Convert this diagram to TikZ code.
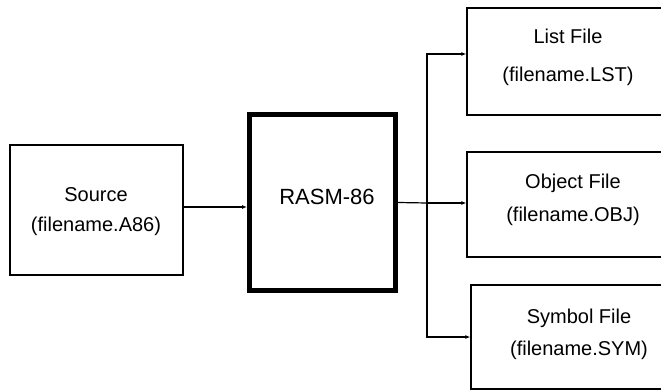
\documentclass[tikz,border=0pt]{standalone}
\usepackage{fontspec}
\setmainfont{Liberation Sans}
\usetikzlibrary{arrows.meta}
\tikzset{
  box/.style={draw, line width=1.3pt, inner sep=0pt, rectangle},
  bigbox/.style={draw, line width=5pt, inner sep=0pt, rectangle},
  lbl/.style={align=center, inner sep=0pt, font=\fontsize{20}{#1}\selectfont},
  lbl/.default=30,
  conn/.style={line width=1.2pt},
  arr/.style={line width=1.2pt, -{Latex[length=5pt,width=4pt]}}
}
\begin{document}
\begin{tikzpicture}[x=1pt,y=-1pt]
\useasboundingbox (0,0) rectangle (661,390);
\clip (0,0) rectangle (661,390);
% boxes
\node[box, minimum width=173pt, minimum height=130pt] (src) at (96.5,210) {};
\node[bigbox, minimum width=146pt, minimum height=176pt] (rasm) at (322.5,202.5) {};
\node[box, minimum width=200pt, minimum height=107pt] (lst) at (567,61.5) {};
\node[box, minimum width=200pt, minimum height=105pt] (obj) at (567,204.5) {};
\node[box, minimum width=200pt, minimum height=104pt] (sym) at (571,337) {};
% labels
\node[lbl=30] (srct) at (96,212) {Source\\(filename.A86)};
\node[inner sep=0pt, font=\fontsize{22}{26}\selectfont] (rasmt) at (327,197) {RASM-86};
\node[lbl=38] (lstt) at (568,57) {List File\\(filename.LST)};
\node[lbl=33] (objt) at (573,200) {Object File\\(filename.OBJ)};
\node[lbl=32] (symt) at (579,334) {Symbol File\\(filename.SYM)};
% connectors
\draw[arr] ([yshift=3pt]src.east) coordinate (s1) -- (s1 -| rasm.west);
\coordinate (bus) at (427,203);
\draw[conn] (rasm.east) -- (bus);
\draw[arr] (bus) |- ([yshift=7.5pt]lst.west);
\draw[arr] (bus) -- (bus -| obj.west);
\draw[arr] (bus) |- (sym.west);
\end{tikzpicture}
\end{document}
